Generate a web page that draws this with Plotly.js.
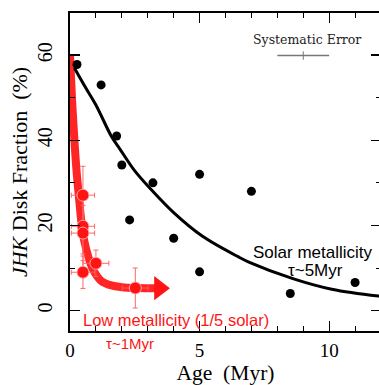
<!DOCTYPE html>
<html>
<head>
<meta charset="utf-8">
<script src="https://cdn.plot.ly/plotly-3.0.1.min.js"></script>
<style>
html,body{margin:0;padding:0;overflow:hidden;background:#fff;width:379px;height:385px;}
#chart{width:381px;height:385px;}
</style>
</head>
<body>
<div id="chart"></div>
<script>
// Solar metallicity clusters (black points)
var solarAge = [0.27, 1.2, 1.8, 2.0, 3.2, 2.3, 4.0, 5.0, 7.0, 5.0, 8.5, 11.0];
var solarFrac = [57.8, 53, 41, 34.2, 30, 21.3, 17, 32, 28, 9.1, 4, 6.6];

// Solar metallicity fit curve (tau ~ 5 Myr)
var solarFitAge = [0.17, 0.6, 1.0, 1.6, 1.92, 2.5, 3.15, 4.0, 5.1, 6.5, 6.9, 8.6, 10.1, 11.9, 12.0];
var solarFitFrac = [57, 52.4, 48.3, 40.9, 38.0, 32.8, 28.3, 23.0, 17.5, 12.6, 11.4, 7.5, 5.0, 3.4, 3.35];

// Low metallicity clusters (red points)
var lowAge = [0.5, 0.5, 0.5, 0.5, 1.0, 2.52];
var lowFrac = [27.1, 19.8, 18.2, 9.0, 11.1, 5.3];
var lowAgeErr = [0.45, 0.45, 0.45, 0.45, 0.5, 0.5];
var lowFracErr = [6.8, 6.5, 6.5, 3.8, 3.1, 4.7];

// Low metallicity fit curve (tau ~ 1 Myr)
var lowFitAge = [0, 0.08, 0.17, 0.25, 0.34, 0.44, 0.55, 0.7, 0.9, 1.2, 1.6, 2.0, 2.6, 3.3];
var lowFitFrac = [60, 49.5, 40, 33, 27, 20.8, 16.4, 12.8, 9.5, 7.0, 5.9, 5.5, 5.3, 5.25];

// arrow head continuing the low metallicity trend
var arrowAge = [3.45];
var arrowFrac = [5.25];

// Systematic error bar
var sysAge = [9.0];
var sysFrac = [59.9];
var sysAgeErr = [1.0];

var xTicks = [0, 5, 10];
var yTicks = [0, 20, 40, 60];

var serif = 'Liberation Serif, Times New Roman, serif';
var sans = 'Liberation Sans, Arial, sans-serif';
var red = 'rgb(255,20,20)';

var traces = [
  {x: lowFitAge, y: lowFitFrac, mode: 'lines', type: 'scatter',
   line: {color: 'rgba(255,25,25,0.95)', width: 8, shape: 'spline'}, hoverinfo: 'skip'},
  {x: arrowAge, y: arrowFrac, mode: 'markers', type: 'scatter',
   marker: {symbol: 'triangle-right', size: 21, color: red}, hoverinfo: 'skip'},
  {x: solarFitAge, y: solarFitFrac, mode: 'lines', type: 'scatter',
   line: {color: '#000', width: 3, shape: 'spline'}, hoverinfo: 'skip'},
  {x: solarAge, y: solarFrac, mode: 'markers', type: 'scatter',
   marker: {color: '#000', size: 9}},
  {x: lowAge, y: lowFrac, mode: 'markers', type: 'scatter',
   marker: {color: red, size: 12, line: {color: 'rgba(255,175,175,0.9)', width: 1}},
   error_x: {type: 'data', array: lowAgeErr, color: 'rgba(255,95,95,0.95)', thickness: 1, width: 2.5},
   error_y: {type: 'data', array: lowFracErr, color: 'rgba(255,95,95,0.95)', thickness: 1, width: 2.5}},
  {x: sysAge, y: sysFrac, mode: 'markers', type: 'scatter',
   marker: {symbol: 'line-ns', size: 6, line: {color: '#777', width: 1}},
   error_x: {type: 'data', array: sysAgeErr, color: '#777', thickness: 1.5, width: 0}}
];

var layout = {
  width: 381, height: 385,
  margin: {l: 70, r: 0, t: 13, b: 54},
  showlegend: false,
  paper_bgcolor: '#fff', plot_bgcolor: '#fff',
  xaxis: {
    range: [0, 12], tickvals: xTicks, ticktext: xTicks.map(String),
    ticks: 'inside', ticklen: 10, tickwidth: 1.3, tickcolor: '#000',
    minor: {dtick: 1, tick0: 0, ticks: 'inside', ticklen: 5, tickwidth: 1, tickcolor: '#000'},
    showline: true, linecolor: '#000', linewidth: 1.6, mirror: 'ticks',
    showgrid: false, zeroline: false,
    tickfont: {family: serif, size: 19, color: '#000'},
    ticklabelstandoff: 2,
    title: {text: 'Age  (Myr)', font: {family: serif, size: 21.5, color: '#000'}, standoff: 10}
  },
  yaxis: {
    range: [-4.8, 69.9], tickvals: yTicks, ticktext: yTicks.map(String),
    ticks: 'inside', ticklen: 10, tickwidth: 1.3, tickcolor: '#000',
    minor: {dtick: 10, tick0: 0, ticks: 'inside', ticklen: 5, tickwidth: 1, tickcolor: '#000'},
    showline: true, linecolor: '#000', linewidth: 1.6, mirror: 'ticks',
    showgrid: false, zeroline: false,
    tickangle: -90,
    tickfont: {family: serif, size: 20, color: '#000'},
    ticklabelstandoff: 8,
    title: {text: '<i>JHK</i> Disk Fraction  (%)', font: {family: serif, size: 22, color: '#000'}, standoff: 1}
  },
  annotations: [
    {x: 9.15, y: 63.6, xref: 'x', yref: 'y', text: 'Systematic Error', showarrow: false,
     font: {family: 'DejaVu Serif, serif', size: 12.5, color: '#222'}},
    {x: 9.39, y: 13.6, xref: 'x', yref: 'y', text: 'Solar metallicity', showarrow: false,
     font: {family: sans, size: 17, color: '#000'}},
    {x: 9.46, y: 9.5, xref: 'x', yref: 'y', text: 'τ~5Myr', showarrow: false,
     font: {family: sans, size: 17, color: '#000'}},
    {x: 4.1, y: -2.2, xref: 'x', yref: 'y', text: 'Low metallicity (1/5 solar)', showarrow: false,
     font: {family: sans, size: 16.5, color: red}},
    {x: 2.33, y: -0.04, xref: 'x', yref: 'paper', yanchor: 'middle', text: 'τ~1Myr', showarrow: false,
     font: {family: sans, size: 15, color: red}}
  ]
};

Plotly.newPlot('chart', traces, layout, {displayModeBar: false, staticPlot: true});
</script>
</body>
</html>
